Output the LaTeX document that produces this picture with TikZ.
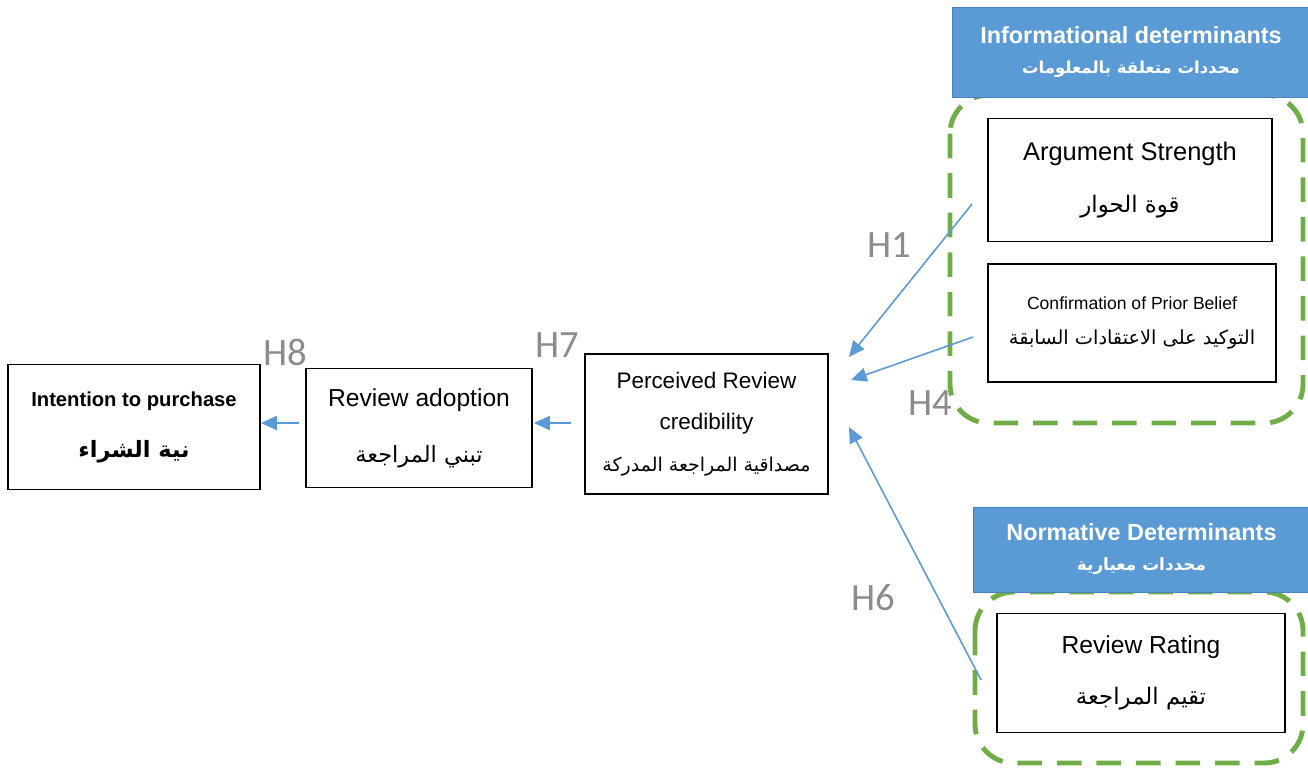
\documentclass[tikz,border=0pt]{standalone}
\usepackage{fontspec}
\setmainfont{Liberation Sans}
\newfontfamily\arabicfont[Script=Arabic]{DejaVu Sans}
\newfontfamily\hypfont{Carlito}
\TeXXeTstate=1
\usetikzlibrary{arrows.meta}

\definecolor{hdrblue}{HTML}{5B9BD5}
\definecolor{hdredge}{HTML}{4A82BA}
\definecolor{grpgreen}{HTML}{70AD47}
\definecolor{arrblue}{HTML}{5B9BD5}
\definecolor{hypgray}{HTML}{8C8C8C}

% Arabic line, right to left
\newcommand{\artext}[2][]{{#1\arabicfont\beginR #2\endR}}

\begin{document}
\begin{tikzpicture}[x=0.02cm, y=-0.02cm,
        box/.style={draw, line width=1.1pt, align=center, inner sep=0pt},
        header/.style={draw=hdredge, fill=hdrblue, text=white, align=center,
                       inner sep=0pt, font=\bfseries\fontsize{13.3}{17}\selectfont},
        group/.style={draw=grpgreen, line width=2.8pt,
                      dash pattern=on 14pt off 8.5pt, rounded corners=22pt},
        arr/.style={-{Triangle[length=9pt, width=8pt]}, draw=arrblue, line width=0.9pt},
        hyp/.style={text=hypgray, font=\hypfont\fontsize{22}{22}\selectfont}
    ]
    \useasboundingbox (0,0) rectangle (1308,769);

    % dashed groups
    \draw[group] (950,95) rectangle (1303,423);
    \draw[group] (975,592) rectangle (1303,763);

    % headers
    \node[header, minimum width=7.16cm, minimum height=1.8cm] (info) at (1131,52)
        {Informational determinants\\ \artext[\fontsize{9.4}{17}\selectfont]{محددات متعلقة بالمعلومات}};
    \node[header, minimum width=6.74cm, minimum height=1.7cm] (norm) at (1141.5,549.5)
        {Normative Determinants\\ \artext[\fontsize{9.6}{17}\selectfont]{محددات معيارية}};

    % construct boxes
    \node[box, minimum width=5.68cm, minimum height=2.46cm,
          font=\fontsize{14.5}{29.5}\selectfont] (arg) at (1130,180)
        {Argument Strength\\ \artext[\fontsize{13}{29.5}\selectfont]{قوة الحوار}};
    \node[box, minimum width=5.76cm, minimum height=2.36cm,
          font=\fontsize{10}{20}\selectfont] (conf) at (1132,323)
        {Confirmation of Prior Belief\\ \artext[\fontsize{11}{20}\selectfont]{التوكيد على الاعتقادات السابقة}};
    \node[box, minimum width=5.76cm, minimum height=2.38cm,
          font=\fontsize{14}{29}\selectfont] (rating) at (1141,673)
        {Review Rating\\ \artext[\fontsize{13}{29}\selectfont]{تقيم المراجعة}};
    \node[box, minimum width=4.86cm, minimum height=2.8cm,
          font=\fontsize{12.8}{23.5}\selectfont] (perc) at (706.5,424)
        {Perceived Review\\ credibility\\ \artext[\fontsize{10.8}{23.5}\selectfont]{مصداقية المراجعة المدركة}};
    \node[box, minimum width=4.52cm, minimum height=2.38cm,
          font=\fontsize{14}{32}\selectfont] (adopt) at (419,428)
        {Review adoption\\ \artext[\fontsize{12.8}{32}\selectfont]{تبني المراجعة}};
    \node[box, minimum width=5.04cm, minimum height=2.5cm,
          font=\bfseries\fontsize{11.5}{29}\selectfont] (intent) at (134,427)
        {Intention to purchase\\ \artext[\fontsize{12.8}{29}\selectfont]{نية الشراء}};

    % hypotheses
    \node[hyp] (h1) at (889,245) {H1};
    \node[hyp] (h4) at (930,403) {H4};
    \node[hyp] (h6) at (873,598) {H6};
    \node[hyp] (h7) at (557,345) {H7};
    \node[hyp] (h8) at (285,352) {H8};

    \draw[arr] ([shift={(-15,24)}]arg.west) -- ([shift={(20,-67)}]perc.east);
    \draw[arr] ([shift={(-14,14)}]conf.west) -- ([shift={(22,-44)}]perc.east);
    \draw[arr] ([shift={(-15,7)}]rating.west) -- ([shift={(20,3)}]perc.east);
    \draw[arr] ([shift={(-13,-1)}]perc.west) -- ([shift={(1,-5)}]adopt.east);
    \draw[arr] ([shift={(-6,-5)}]adopt.west) -- ([shift={(0,-4)}]intent.east);
\end{tikzpicture}
\end{document}
